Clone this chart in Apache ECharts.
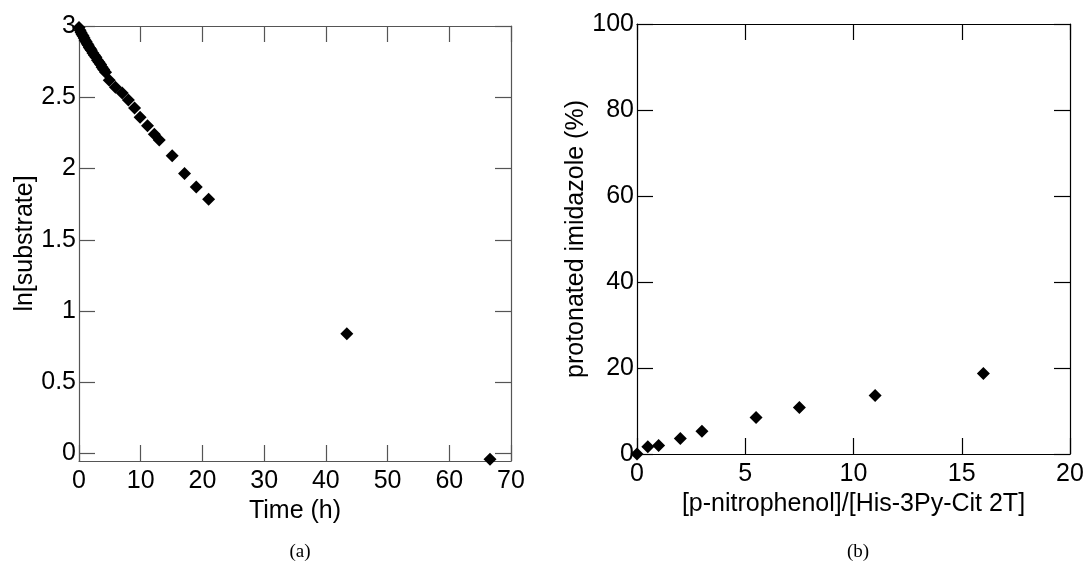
<!DOCTYPE html>
<html>
<head>
<meta charset="utf-8">
<script src="https://cdn.jsdelivr.net/npm/echarts@6/dist/echarts.min.js"></script>
<style>
html,body{margin:0;padding:0;background:#fff;}
#c{width:1089px;height:563px;}
</style>
</head>
<body>
<div id="c"></div>
<script>
// Panel (a): ln[substrate] vs time
const timeH = [0, 0.17, 0.33, 0.5, 0.67, 0.83, 1.0, 1.17, 1.33, 1.5, 1.67, 1.83, 2.0, 2.25, 2.5, 2.75, 3.0, 3.25, 3.5, 3.75, 4.0, 4.3, 4.9, 5.9, 7.0, 8.0, 9.0, 9.9, 11.1, 12.2, 13.0, 15.1, 17.1, 19.0, 21.0, 43.4, 66.6];
const lnSubstrate = [2.99, 2.97, 2.955, 2.94, 2.93, 2.915, 2.90, 2.89, 2.875, 2.865, 2.85, 2.84, 2.83, 2.81, 2.795, 2.78, 2.76, 2.745, 2.73, 2.71, 2.695, 2.675, 2.62, 2.57, 2.53, 2.48, 2.425, 2.36, 2.30, 2.24, 2.20, 2.09, 1.965, 1.87, 1.785, 0.84, -0.04];
// Panel (b): protonated imidazole vs ratio
const ratio = [0, 0.5, 1.0, 2.0, 3.0, 5.5, 7.5, 11.0, 16.0];
const protonated = [0, 1.7, 2.0, 3.6, 5.3, 8.5, 10.8, 13.6, 18.7];

const xTicksA = [0, 10, 20, 30, 40, 50, 60, 70];
const yTicksA = [0, 0.5, 1, 1.5, 2, 2.5, 3];
const xTicksB = [0, 5, 10, 15, 20];
const yTicksB = [0, 20, 40, 60, 80, 100];

const FONT = 'Liberation Sans, Arial, sans-serif';
const FS = 25;

function axisBase(color, grid, min, max, ticks) {
  return {
    type: 'value', gridIndex: grid, min: min, max: max,
    splitLine: {show: false},
    axisLine: {show: true, onZero: false, lineStyle: {color: color, width: 1.2}},
    axisTick: {show: true, inside: true, length: 16, customValues: ticks, lineStyle: {color: color, width: 1.2}},
    axisLabel: {show: false, customValues: ticks}
  };
}
function labelStyle(margin, ticks) {
  return {show: true, color: '#000', fontFamily: FONT, fontSize: FS, margin: margin, customValues: ticks,
          formatter: v => String(v)};
}
const nameStyle = {color: '#000', fontFamily: FONT, fontSize: FS};

const xAxes = [];
const yAxes = [];

// Panel a axes
let xa = axisBase('#555', 0, 0, 70, xTicksA);
xa.position = 'bottom';
xa.axisLabel = labelStyle(8, xTicksA);
xa.name = 'Time (h)'; xa.nameLocation = 'middle'; xa.nameGap = 30; xa.nameTextStyle = nameStyle;
xAxes.push(xa);
let xa2 = axisBase('#555', 0, 0, 70, xTicksA); xa2.position = 'top'; xAxes.push(xa2);

let ya = axisBase('#555', 0, -0.052, 3, yTicksA);
ya.position = 'left';
ya.axisLabel = labelStyle(3, yTicksA);
ya.name = 'ln[substrate]'; ya.nameLocation = 'middle'; ya.nameGap = 37; ya.nameTextStyle = nameStyle;
yAxes.push(ya);
let ya2 = axisBase('#555', 0, -0.052, 3, yTicksA); ya2.position = 'right'; yAxes.push(ya2);

// Panel b axes
let xb = axisBase('#000', 1, 0, 20, xTicksB);
xb.position = 'bottom';
xb.axisLabel = labelStyle(8, xTicksB);
xb.name = '[p-nitrophenol]/[His-3Py-Cit 2T]'; xb.nameLocation = 'middle'; xb.nameGap = 30; xb.nameTextStyle = nameStyle;
xAxes.push(xb);
let xb2 = axisBase('#000', 1, 0, 20, xTicksB); xb2.position = 'top'; xAxes.push(xb2);

let yb = axisBase('#000', 1, 0, 100, yTicksB);
yb.position = 'left';
yb.axisLabel = labelStyle(3, yTicksB);
yb.name = 'protonated imidazole (%)'; yb.nameLocation = 'middle'; yb.nameGap = 48; yb.nameTextStyle = nameStyle;
yAxes.push(yb);
let yb2 = axisBase('#000', 1, 0, 100, yTicksB); yb2.position = 'right'; yAxes.push(yb2);

const subStyle = {fontFamily: 'Liberation Serif, Times New Roman, serif', fontSize: 19, fontWeight: 'normal', color: '#000'};

const option = {
  backgroundColor: '#fff',
  animation: false,
  title: [
    {text: '(a)', left: 295, top: 538, textAlign: 'center', textStyle: subStyle},
    {text: '(b)', left: 853, top: 538, textAlign: 'center', textStyle: subStyle}
  ],
  grid: [
    {left: 79, top: 26, width: 432, height: 435, containLabel: false},
    {left: 637, top: 24, width: 433, height: 430, containLabel: false}
  ],
  xAxis: xAxes,
  yAxis: yAxes,
  series: [
    {type: 'scatter', xAxisIndex: 0, yAxisIndex: 0, symbol: 'diamond', symbolSize: 13, clip: false,
     itemStyle: {color: '#000', opacity: 1}, data: timeH.map((t, i) => [t, lnSubstrate[i]])},
    {type: 'scatter', xAxisIndex: 2, yAxisIndex: 2, symbol: 'diamond', symbolSize: 13, clip: false,
     itemStyle: {color: '#000', opacity: 1}, data: ratio.map((r, i) => [r, protonated[i]])}
  ]
};

const chart = echarts.init(document.getElementById('c'), null, {renderer: 'canvas'});
chart.setOption(option);
</script>
</body>
</html>
